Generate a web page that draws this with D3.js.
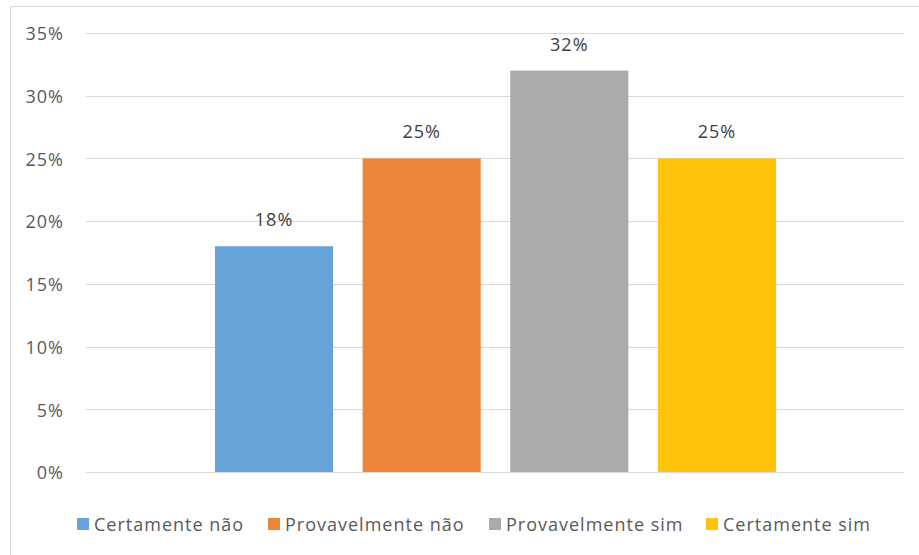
<!DOCTYPE html>
<html><head><meta charset="utf-8">
<script src="https://cdn.jsdelivr.net/npm/d3@7"></script>
<style>body{margin:0;background:#fff;} text{font-family:"Open Sans",sans-serif;letter-spacing:1px;}</style>
</head><body><svg id="c" width="919" height="555"></svg>
<script>
const categories = ["Certamente não","Provavelmente não","Provavelmente sim","Certamente sim"];
const values = [0.18,0.25,0.32,0.25];
const colors = ["#65A3D9","#EE863A","#ABABAB","#FFC40A"];
const yTicks = [0,0.05,0.10,0.15,0.20,0.25,0.30,0.35];

const svg = d3.select("#c");
svg.append("rect").attr("x",10.5).attr("y",6.5).attr("width",912).attr("height",560)
  .attr("fill","#fff").attr("stroke","#d9d9d9");
const L=86,R=904,T=33,B=472;
const y = d3.scaleLinear().domain([0,0.35]).range([B,T]);
const x = d3.scaleBand().domain(categories).range([215,776]).paddingInner(0.2);
const fmt = d3.format(".0%");
const g = svg.append("g");
g.selectAll(".grid").data(yTicks).join("line")
  .attr("x1",L).attr("x2",R).attr("y1",d=>Math.round(y(d))+0.5).attr("y2",d=>Math.round(y(d))+0.5)
  .attr("stroke","#d9d9d9").attr("stroke-width",1);
const yAxis = d3.axisLeft(y).tickValues(yTicks).tickFormat(fmt).tickSize(0).tickPadding(0);
const ax = svg.append("g").attr("transform",`translate(64,1)`).call(yAxis);
ax.select(".domain").remove();
ax.selectAll("text").attr("fill","#595959").style("font-size","18px").style("font-family","Open Sans").style("letter-spacing","1px");
g.selectAll(".bar").data(values).join("rect")
  .attr("x",(d,i)=>x(categories[i])).attr("width",x.bandwidth())
  .attr("y",d=>y(d)).attr("height",d=>B-y(d)).attr("fill",(d,i)=>colors[i]);
g.selectAll(".lbl").data(values).join("text")
  .attr("x",(d,i)=>x(categories[i])+x.bandwidth()/2).attr("y",d=>y(d)-20)
  .attr("text-anchor","middle").attr("fill","#404040").style("font-size","18px").text(d=>fmt(d));
// legend
const legX=[77,268,489,706];
const lg = svg.append("g");
categories.forEach((c,i)=>{
  lg.append("rect").attr("x",legX[i]).attr("y",518).attr("width",12).attr("height",12).attr("fill",colors[i]);
  lg.append("text").attr("x",legX[i]+17).attr("y",531).attr("fill","#595959").style("font-size","18px").text(c);
});
</script></body></html>
